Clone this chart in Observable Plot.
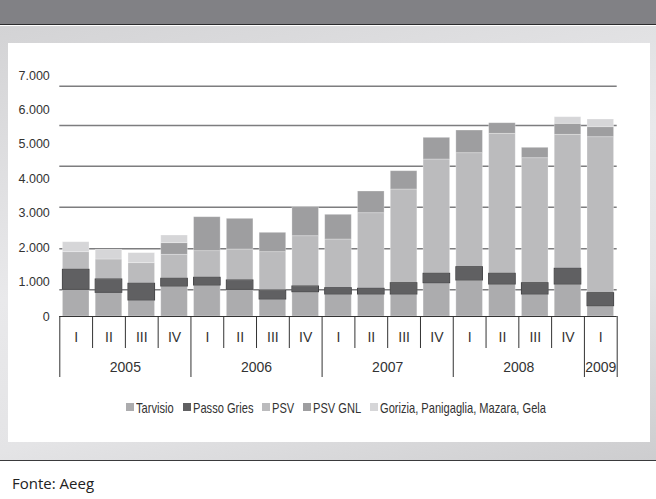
<!DOCTYPE html>
<html>
<head>
<meta charset="utf-8">
<script src="https://cdn.jsdelivr.net/npm/d3@7"></script>
<script src="https://cdn.jsdelivr.net/npm/@observablehq/plot@0.6"></script>
<style>
  html, body { margin: 0; padding: 0; background: #fff; }
  #page { position: relative; width: 656px; height: 499px; overflow: hidden; }
  #head { position: absolute; left: 0; top: 0; width: 656px; height: 24px; background: #818185; border-bottom: 1.5px solid #2b2b2d; }
  #panel { position: absolute; left: 0; top: 25.5px; width: 656px; height: 434px;
           background: linear-gradient(165deg, #d3d3d5 0%, #e9e9eb 45%, #e4e4e6 70%, #cdcdcf 100%);
           border-bottom: 1.5px solid #3a3a3c; }
  #card { position: absolute; left: 8px; top: 43px; width: 642px; height: 399px; background: #fff; }
  #chart { position: absolute; left: 0; top: 0; }
  #legend { position: absolute; left: 126px; top: 398px; height: 18px; display: flex; align-items: center;
            font-family: "Liberation Sans", Arial, sans-serif; font-size: 15px; color: #333; white-space: nowrap; }
  #legend .item { display: flex; align-items: center; margin-right: 9px; }
  #legend i { display: inline-block; width: 8px; height: 8px; margin-right: 2px; flex: none; }
  #legend .lbl { display: inline-block; transform: scaleX(0.74); transform-origin: 0 50%; }
  #source { position: absolute; left: 12px; top: 473px; font-family: "Open Sans", sans-serif; font-size: 15px; color: #222; }
</style>
</head>
<body>
<div id="page">
  <div id="head"></div>
  <div id="panel"></div>
  <div id="card"></div>
  <div id="chart"></div>
  <div id="legend"></div>
  <div id="source">Fonte: Aeeg</div>
</div>
<script>
// Quarterly volumes by entry point, 2005 Q1 – 2009 Q1
const years    = ["2005","2005","2005","2005","2006","2006","2006","2006","2007","2007","2007","2007","2008","2008","2008","2008","2009"];
const quarters = ["I","II","III","IV","I","II","III","IV","I","II","III","IV","I","II","III","IV","I"];

const tarvisio   = [775, 688, 465, 871, 900, 775, 494, 706, 639, 639, 639, 967, 1046, 929, 639, 929, 299];
const passoGries = [581, 387, 485, 224, 224, 271, 261, 165, 183, 165, 328, 273, 386, 311, 328, 456, 378];
const psv        = [512, 581, 599, 697, 773, 900, 1113, 1461, 1414, 2196, 2722, 3320, 3311, 4066, 3631, 3892, 4531];
const psvGnl     = [0, 0, 0, 338, 987, 891, 563, 843, 718, 631, 531, 630, 659, 308, 302, 320, 290];
const gorizia    = [290, 281, 291, 223, 0, 0, 0, 0, 0, 0, 0, 0, 0, 0, 0, 192, 224];

const seriesNames  = ["Tarvisio", "Passo Gries", "PSV", "PSV GNL", "Gorizia, Panigaglia, Mazara, Gela"];
const seriesValues = [tarvisio, passoGries, psv, psvGnl, gorizia];
const seriesColors = ["#acacae", "#606062", "#bbbbbd", "#9e9ea0", "#d6d6d8"];

const yTicks      = [0, 1000, 2000, 3000, 4000, 5000, 6000, 7000];
const yTickLabels = ["0", "1.000", "2.000", "3.000", "4.000", "5.000", "6.000", "7.000"];
const gridLevels  = [775, 1966, 3175, 4366, 5547, 6689];

// Stack the series quarter by quarter
const segments = [];
quarters.forEach((q, i) => {
  let base = 0;
  seriesNames.forEach((s, k) => {
    const v = seriesValues[k][i];
    if (v > 0) segments.push({i, series: s, y1: base, y2: base + v});
    base += v;
  });
});

// Axis helpers: band edges, quarter centres, year groups
const edges = d3.range(quarters.length + 1).map(i => ({
  i, yearStart: i === 0 || i === quarters.length || years[i] !== years[i - 1]
}));
const quarterLabels = quarters.map((q, i) => ({x: i + 0.5, q}));
const yearGroups = d3.groups(years.map((y, i) => ({y, i})), d => d.y)
  .map(([y, arr]) => ({y, x: (arr[0].i + arr[arr.length - 1].i + 1) / 2}));

const sans = "'Liberation Sans', Arial, sans-serif";

const chart = Plot.plot({
  width: 656,
  height: 499,
  marginLeft: 59.3,
  marginRight: 39.3,
  marginTop: 75,
  marginBottom: 183,
  style: {background: "transparent", overflow: "visible"},
  x: {domain: [0, quarters.length], axis: null},
  y: {domain: [0, 7000], axis: null},
  color: {domain: seriesNames, range: seriesColors},
  marks: [
    Plot.ruleY(gridLevels, {stroke: "#7d7d7f", strokeWidth: 1.4}),
    Plot.rect(segments, {
      x1: "i", x2: d => d.i + 1, y1: "y1", y2: "y2",
      fill: "series", insetLeft: 3.1, insetRight: 3.1,
      stroke: "#ffffff", strokeOpacity: 0.35, strokeWidth: 0.8
    }),
    Plot.rect(segments.filter(d => d.series === "Passo Gries"), {
      x1: "i", x2: d => d.i + 1, y1: "y1", y2: "y2",
      fill: "none", stroke: "#444446", strokeWidth: 1,
      insetLeft: 3.1, insetRight: 3.1
    }),
    Plot.ruleY([0], {stroke: "#333", strokeWidth: 1.2}),
    // quarter and year separators below the baseline
    Plot.ruleX(edges.filter(d => !d.yearStart), {x: "i", y1: 0, y2: 0, insetBottom: -32, stroke: "#333", strokeWidth: 1}),
    Plot.ruleX(edges.filter(d => d.yearStart), {x: "i", y1: 0, y2: 0, insetBottom: -61, stroke: "#333", strokeWidth: 1}),
    Plot.text(quarterLabels, {x: "x", y: 0, dy: 21.5, text: "q", fontFamily: sans, fontSize: 14, fill: "#333", ariaLabel: "quarter-labels"}),
    Plot.text(yearGroups, {x: "x", y: 0, dy: 51, text: "y", fontFamily: sans, fontSize: 14, fill: "#333", ariaLabel: "year-labels"}),
    Plot.axisY({
      ticks: yTicks, tickSize: 0, tickPadding: 10,
      tickFormat: d => yTickLabels[yTicks.indexOf(d)],
      fontSize: 12.5, fill: "#333", fontFamily: sans, label: null
    })
  ]
});
document.getElementById("chart").appendChild(chart);

// Condensed look for the category labels
d3.select(chart).selectAll('g[aria-label="quarter-labels"] text, g[aria-label="year-labels"] text')
  .each(function () {
    const t = this.getAttribute("transform") || "";
    this.setAttribute("transform", t + " scale(0.82,1)");
  });

// Legend
const legend = document.getElementById("legend");
seriesNames.forEach((s, k) => {
  const item = document.createElement("span");
  item.className = "item";
  const sw = document.createElement("i");
  sw.style.background = seriesColors[k];
  const lbl = document.createElement("span");
  lbl.className = "lbl";
  lbl.textContent = s;
  item.appendChild(sw);
  item.appendChild(lbl);
  legend.appendChild(item);
  lbl.style.width = (lbl.getBoundingClientRect().width) + "px";
});
</script>
</body>
</html>
